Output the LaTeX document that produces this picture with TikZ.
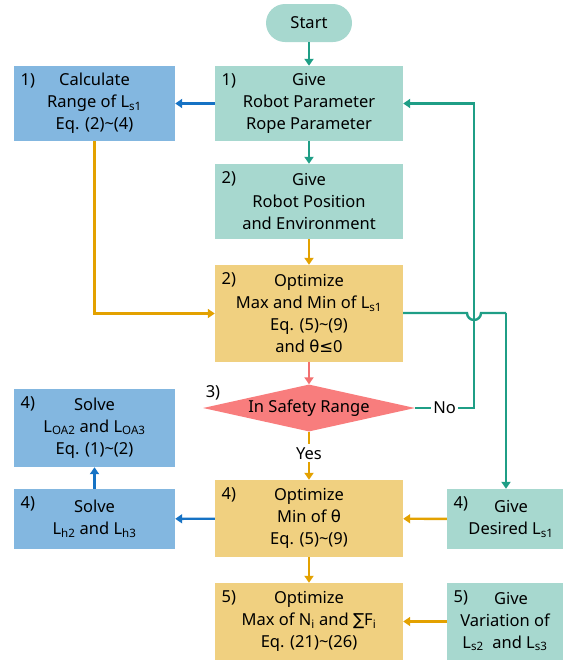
\documentclass[tikz,border=0pt]{standalone}
\usepackage{fontspec}
\setmainfont{Noto Sans}
\newfontfamily\dvs{DejaVu Sans}
\usetikzlibrary{shapes.geometric,arrows.meta}
\definecolor{tealfill}{RGB}{167,216,207}
\definecolor{tealline}{RGB}{31,158,134}
\definecolor{bluefill}{RGB}{131,183,224}
\definecolor{blueline}{RGB}{22,114,196}
\definecolor{orfill}{RGB}{240,208,128}
\definecolor{orline}{RGB}{227,161,0}
\definecolor{pinkfill}{RGB}{248,125,125}
\definecolor{pinkline}{RGB}{242,112,112}
\newcommand\sbs[1]{\textsubscript{#1}}
\newcommand\tld{\textasciitilde}
\begin{document}
\begin{tikzpicture}[x=1pt,y=-1pt,
  every node/.style={font=\fontsize{16.5}{22}\selectfont, text=black},
  flowbox/.style={inner sep=0pt, align=center},
  wide/.style={minimum width=188pt},
  narrow/.style={minimum width=161pt},
  small/.style={minimum width=116pt},
  tbox/.style={flowbox, fill=tealfill},
  bbox/.style={flowbox, fill=bluefill},
  obox/.style={flowbox, fill=orfill},
  numlab/.style={font=\fontsize{16.5}{18}\selectfont\bfseries, inner sep=0pt},
  arr/.style={line width=2.4pt, -{Triangle[length=7pt,width=9pt]}},
  ln/.style={line width=2.4pt}
]
\useasboundingbox (0,0) rectangle (565,662);

% nodes
\node[flowbox, fill=tealfill, rounded corners=19pt, minimum width=86pt, minimum height=38pt] (start) at (309,23) {Start};
\node[tbox, wide, minimum height=75pt] (b1) at (309,103.5) {Give\\Robot Parameter\\Rope Parameter};
\node[bbox, narrow, minimum height=75pt] (calc) at (94.5,103.5) {Calculate\\Range of L\sbs{s1}\\Eq. (2)\tld(4)};
\node[tbox, wide, minimum height=75pt] (b2) at (309,201.5) {Give\\Robot Position\\and Environment};
\node[obox, wide, minimum height=97pt] (o2) at (309,313.5) {Optimize\\Max and Min of L\sbs{s1}\\Eq. (5)\tld(9)\\and {\dvs θ≤}0};
\node[diamond, fill=pinkfill, inner sep=0pt, minimum width=212pt, minimum height=47pt] (dia) at (309,408) {};
\node[inner sep=0pt] (diat) at (dia.center) {In Safety Range};
\node[bbox, narrow, minimum height=78pt] (sloa) at (94.5,428) {Solve\\L\sbs{OA2} and L\sbs{OA3}\\Eq. (1)\tld(2)};
\node[bbox, narrow, minimum height=60pt] (slh) at (94.5,519) {Solve\\L\sbs{h2} and L\sbs{h3}};
\node[obox, wide, minimum height=77pt] (o4) at (309,518.5) {Optimize\\Min of {\dvs θ}\\Eq. (5)\tld(9)};
\node[tbox, small, minimum height=60pt] (des) at (505,519) {\hspace*{12pt}Give\\\hspace*{12pt}Desired L\sbs{s1}};
\node[obox, wide, minimum height=77pt] (o5) at (309,621.5) {Optimize\\Max of N\sbs{i} and {\dvs ∑}F\sbs{i}\\Eq. (21)\tld(26)};
\node[tbox, small, minimum height=77pt] (var) at (505,621.5) {\hspace*{12pt}Give\\Variation of\\L\sbs{s2} \ and L\sbs{s3}};

% number labels
\node[numlab] (n1a) at ([shift={(14,15)}]calc.north west) {1)};
\node[numlab] (n1b) at ([shift={(14,15)}]b1.north west) {1)};
\node[numlab] (n2a) at ([shift={(14,15)}]b2.north west) {2)};
\node[numlab] (n2b) at ([shift={(14,15)}]o2.north west) {2)};
\node[numlab] (n3) at (213,393) {3)};
\node[numlab] (n4a) at ([shift={(14,15)}]sloa.north west) {4)};
\node[numlab] (n4b) at ([shift={(14,15)}]slh.north west) {4)};
\node[numlab] (n4c) at ([shift={(14,15)}]o4.north west) {4)};
\node[numlab] (n4d) at ([shift={(14,15)}]des.north west) {4)};
\node[numlab] (n5a) at ([shift={(14,15)}]o5.north west) {5)};
\node[numlab] (n5b) at ([shift={(14,15)}]var.north west) {5)};

% connector helpers
\coordinate (nocorner) at (474,408);
\coordinate (nobend) at (474,103.5);
\coordinate (hopa) at (467,313);
\coordinate (hopb) at (481,313);
\coordinate (rbend) at (506,313);

% connectors
\draw[arr, tealline] (start) -- (b1);
\draw[arr, blueline] (b1) -- (calc);
\draw[arr, tealline] (b1) -- (b2);
\draw[arr, orline] (b2) -- (o2);
\draw[arr, orline] (calc.south) -- (calc.south |- o2.west) -- (o2.west);
\draw[arr, pinkline] (o2) -- (dia);
\draw[arr, tealline] (dia.east) -- node[fill=white, inner sep=2pt] (no) {No} (nocorner) -- (nobend) -- (b1.east);
\draw[arr, orline] (dia.south) -- node[fill=white, inner sep=3pt, pos=0.45] (yes) {Yes} (o4.north);
\draw[ln, tealline] (o2.east |- hopa) -- (hopa) arc[start angle=180, end angle=360, radius=7pt] -- (rbend);
\draw[arr, tealline] (rbend) -- (des.north -| rbend);
\draw[arr, blueline] (o4) -- (slh);
\draw[arr, blueline] (slh) -- (sloa);
\draw[arr, orline] (des) -- (o4);
\draw[arr, orline] (o4) -- (o5);
\draw[arr, orline] (var) -- (o5);
\end{tikzpicture}
\end{document}
